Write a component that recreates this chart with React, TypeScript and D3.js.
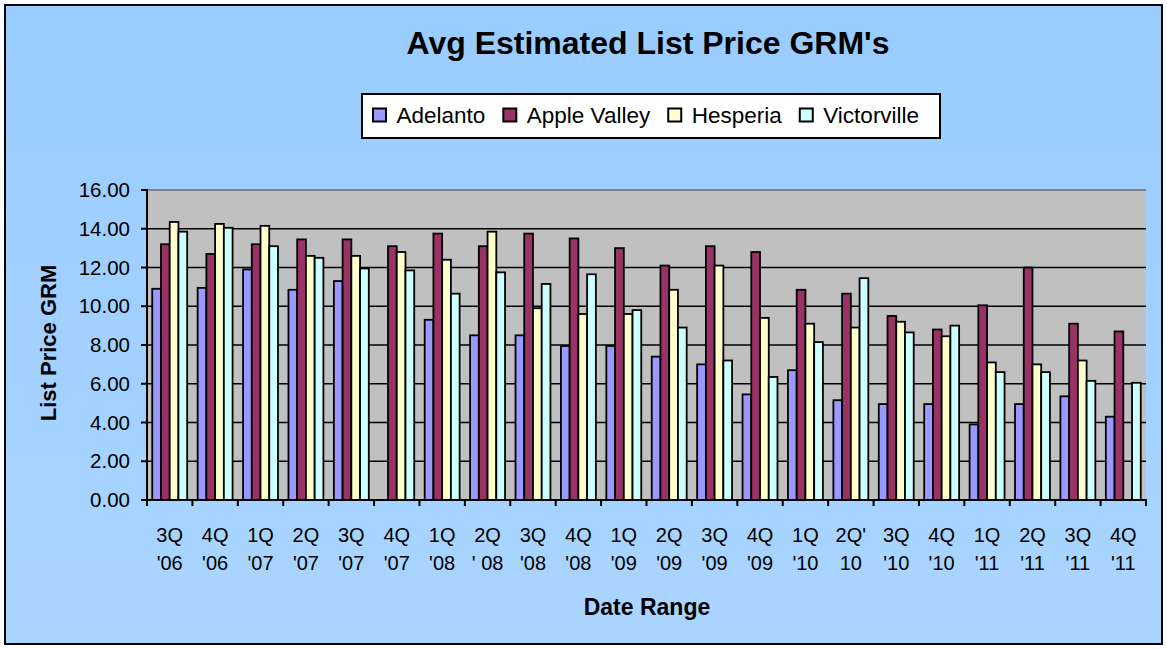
import React from "react";
import * as d3 from "d3";

const categoryTop = ["3Q","4Q","1Q","2Q","3Q","4Q","1Q","2Q","3Q","4Q","1Q","2Q","3Q","4Q","1Q","2Q'","3Q","4Q","1Q","2Q","3Q","4Q"];
const categoryBottom = ["'06","'06","'07","'07","'07","'07","'08","' 08","'08","'08","'09","'09","'09","'09","'10","10","'10","'10","'11","'11","'11","'11"];

const seriesNames = ["Adelanto", "Apple Valley", "Hesperia", "Victorville"];
const seriesColors = ["#9999FF", "#993366", "#FFFFCC", "#CCFFFF"];

const adelanto = [10.9, 10.95, 11.9, 10.85, 11.3, null, 9.3, 8.5, 8.5, 7.95, 7.95, 7.4, 7.0, 5.45, 6.7, 5.15, 4.95, 4.95, 3.9, 4.95, 5.35, 4.3];
const appleValley = [13.2, 12.7, 13.2, 13.45, 13.45, 13.1, 13.75, 13.1, 13.75, 13.5, 13.0, 12.1, 13.1, 12.8, 10.85, 10.65, 9.5, 8.8, 10.05, 12.0, 9.1, 8.7];
const hesperia = [14.35, 14.25, 14.15, 12.6, 12.6, 12.8, 12.4, 13.85, 9.9, 9.6, 9.6, 10.85, 12.1, 9.4, 9.1, 8.9, 9.2, 8.45, 7.1, 7.0, 7.2, null];
const victorville = [13.85, 14.05, 13.1, 12.5, 11.95, 11.85, 10.65, 11.75, 11.15, 11.65, 9.8, 8.9, 7.2, 6.35, 8.15, 11.45, 8.65, 9.0, 6.6, 6.6, 6.15, 6.05];

const yTicks = [0, 2, 4, 6, 8, 10, 12, 14, 16];

const W = 1167, H = 649;
const FONT = "'Liberation Sans', Arial, sans-serif";

function measure(text: string, font: string): number {
  const c = document.createElement("canvas").getContext("2d");
  if (!c) return text.length * 11;
  c.font = font;
  return c.measureText(text).width;
}

export default function App() {
  const series = [adelanto, appleValley, hesperia, victorville];
  const plot = { left: 147, right: 1146, top: 190, bottom: 500 };
  const idx = categoryTop.map((_, i) => i);
  const x = d3.scaleBand<number>().domain(idx).range([plot.left, plot.right]).paddingInner(0).paddingOuter(0);
  const gapRatio = 1.2;
  const inner = d3.scaleBand<number>().domain([0, 1, 2, 3]).range([0, x.bandwidth()]).paddingInner(0).paddingOuter(gapRatio / 2);
  const y = d3.scaleLinear().domain([0, 16]).range([plot.bottom, plot.top]);

  // legend layout
  const legendFont = `22.5px ${FONT}`;
  const legendLeft = 362, legendTop = 94, legendRight = 940, legendBottom = 138;
  let cursor = 373;
  const legendItems = seriesNames.map((name, i) => {
    const item = { name, color: seriesColors[i], sx: cursor, tx: cursor + 23.5 };
    cursor = item.tx + measure(name, legendFont) + 18;
    return item;
  });

  return (
    <svg width={W} height={H} style={{ position: "absolute", left: 0, top: 0, display: "block" }} fontFamily={FONT}>
      <defs>
        <linearGradient id="bg" x1="0" y1="0" x2="0" y2="1">
          <stop offset="0" stopColor="#99CCFF" />
          <stop offset="1" stopColor="#AAD5FF" />
        </linearGradient>
      </defs>
      <rect x={5} y={5} width={W - 10} height={H - 10} fill="url(#bg)" stroke="#000" strokeWidth={2} />

      <text x={648} y={54} textAnchor="middle" fontSize={32} fontWeight="bold">Avg Estimated List Price GRM's</text>

      {/* legend */}
      <rect x={legendLeft} y={legendTop} width={legendRight - legendLeft} height={legendBottom - legendTop} fill="#fff" stroke="#000" strokeWidth={2} />
      {legendItems.map((it) => (
        <g key={it.name}>
          <rect x={it.sx} y={108.5} width={13} height={13} fill={it.color} stroke="#000" strokeWidth={2} />
          <text x={it.tx} y={122.5} fontSize={22.5}>{it.name}</text>
        </g>
      ))}

      {/* plot area */}
      <rect x={plot.left} y={plot.top} width={plot.right - plot.left} height={plot.bottom - plot.top} fill="#C0C0C0" />
      {yTicks.filter((t) => t > 0 && t < 16).map((t) => (
        <line key={t} x1={plot.left} x2={plot.right} y1={y(t)} y2={y(t)} stroke="#000" strokeWidth={1.6} />
      ))}
      <line x1={plot.left} x2={plot.right} y1={plot.top} y2={plot.top} stroke="#808080" strokeWidth={2} />

      {/* bars */}
      {series.map((vals, si) => (
        <g key={si}>
          {vals.map((v, ci) => v == null ? null : (
            <rect key={ci}
              x={(x(ci) as number) + (inner(si) as number)}
              y={y(v)}
              width={inner.bandwidth()}
              height={y(0) - y(v)}
              fill={seriesColors[si]} stroke="#000" strokeWidth={1.8} />
          ))}
        </g>
      ))}

      {/* axes */}
      <line x1={plot.left} x2={plot.left} y1={plot.top - 1} y2={plot.bottom + 1} stroke="#000" strokeWidth={2} />
      <line x1={plot.left - 1} x2={plot.right + 1} y1={plot.bottom} y2={plot.bottom} stroke="#000" strokeWidth={2} />
      {yTicks.map((t) => (
        <g key={t}>
          <line x1={plot.left - 6} x2={plot.left} y1={y(t)} y2={y(t)} stroke="#000" strokeWidth={2} />
          <text x={130} y={y(t) + 7} textAnchor="end" fontSize={20.5}>{t.toFixed(2)}</text>
        </g>
      ))}
      {idx.concat([idx.length]).map((i) => {
        const xx = i < idx.length ? (x(i) as number) : plot.right;
        return <line key={"t" + i} x1={xx} x2={xx} y1={plot.bottom} y2={plot.bottom + 6} stroke="#000" strokeWidth={2} />;
      })}
      {idx.map((i) => {
        const cx = (x(i) as number) + x.bandwidth() / 2;
        return (
          <g key={"l" + i}>
            <text x={cx} y={542} textAnchor="middle" fontSize={20}>{categoryTop[i]}</text>
            <text x={cx} y={570} textAnchor="middle" fontSize={20}>{categoryBottom[i]}</text>
          </g>
        );
      })}

      <text x={647} y={615} textAnchor="middle" fontSize={23} fontWeight="bold">Date Range</text>
      <text transform={`translate(56,343) rotate(-90)`} textAnchor="middle" fontSize={22} fontWeight="bold">List Price GRM</text>
    </svg>
  );
}
